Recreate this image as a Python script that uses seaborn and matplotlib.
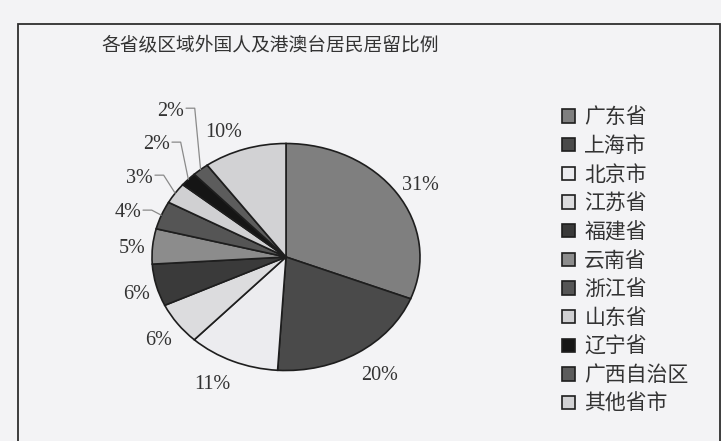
import matplotlib
matplotlib.use("Agg")
import matplotlib.pyplot as plt
from matplotlib.patches import Rectangle
import numpy as np
import seaborn as sns

# Residence share by province-level region
regions = ["广东省", "上海市", "北京市", "江苏省", "福建省", "云南省",
           "浙江省", "山东省", "辽宁省", "广西自治区", "其他省市"]
shares = [31, 20, 11, 6, 6, 5, 4, 3, 2, 2, 10]
slice_colors = ["#7f7f7f", "#4a4a4a", "#ececef", "#dcdcde", "#3a3a3a", "#8c8c8c",
                "#555555", "#d0d0d2", "#151515", "#5c5c5c", "#d2d2d4"]
title = "各省级区域外国人及港澳台居民居留比例"

# Small slices get labels set off to the upper left with leader lines
callout_idx = [6, 7, 8, 9]
callout_pos = [(-1.082, 0.388), (-0.993, 0.696), (-0.866, 0.987), (-0.761, 1.286)]

sns.set_theme(style="white")
plt.rcParams["font.family"] = ["Noto Sans CJK SC", "DejaVu Sans"]

W, H = 721, 441
paper = "#f3f3f5"
ink = "#333333"
fig = plt.figure(figsize=(W / 100, H / 100), dpi=100, facecolor=paper)

# Pie axes: ellipse centred near (286, 257) px with radii 134 x 113.5 px
cx, cy, rx, ry = 286, 257, 134, 113.5
ax = fig.add_axes([(cx - 1.25 * rx) / W, (H - cy - 1.25 * ry) / H,
                   2.5 * rx / W, 2.5 * ry / H])
ax.set_facecolor(paper)

wedges, _ = ax.pie(shares, colors=slice_colors, startangle=90, counterclock=False,
                   wedgeprops=dict(edgecolor="#1e1e1e", linewidth=1.2))
ax.set_aspect("auto")
ax.set_xlim(-1.25, 1.25)
ax.set_ylim(-1.25, 1.25)
ax.axis("off")

pct_font = dict(family="Liberation Serif", size=14.5, color=ink)
for i, (w, v) in enumerate(zip(wedges, shares)):
    mid = np.deg2rad((w.theta1 + w.theta2) / 2)
    c, s = np.cos(mid), np.sin(mid)
    if i in callout_idx:
        tx, ty = callout_pos[callout_idx.index(i)]
        ax.text(tx, ty, f"{v}%", ha="right", va="center", **pct_font)
        ax.plot([tx + 0.015, tx + 0.08, c], [ty + 0.025, ty + 0.025, s],
                color="#8a8a8a", lw=0.9, clip_on=False)
    else:
        ax.text(1.05 * c, 1.19 * s - 0.035, f"{v}%",
                ha="left" if c > 0 else "right", va="center", **pct_font)

fig.text(270 / W, 1 - 45 / H, title, ha="center", va="center",
         fontsize=13.5, color=ink)

leg = fig.legend(wedges, regions, loc="upper left",
                 bbox_to_anchor=(552 / W, 1 - 96 / H), frameon=False,
                 fontsize=15, handlelength=0.6, handleheight=0.6,
                 handletextpad=0.45, labelspacing=0.32, borderpad=0)
for t in leg.get_texts():
    t.set_color(ink)

# Chart frame
fig.add_artist(Rectangle((18 / W, -0.05), (720 - 18) / W, (H - 24) / H + 0.05,
                         transform=fig.transFigure, fill=False,
                         edgecolor="#2e2e2e", linewidth=1.3))

fig.savefig("out.png", dpi=100, facecolor=paper)
